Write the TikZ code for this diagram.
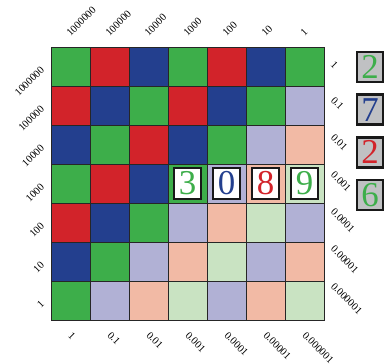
\documentclass[tikz,border=0pt]{standalone}
\usepackage{fontspec}
\setmainfont{Liberation Serif}
\usepackage{graphicx}
\usetikzlibrary{positioning}
\definecolor{full0}{HTML}{3DAE4A}
\definecolor{full1}{HTML}{D2232A}
\definecolor{full2}{HTML}{233F8E}
\definecolor{light0}{HTML}{C9E3C2}
\definecolor{light1}{HTML}{B1B1D5}
\definecolor{light2}{HTML}{F2BAA5}
\definecolor{boxgray}{HTML}{C0C1C3}

\begin{document}
\begin{tikzpicture}[x=1bp, y=1bp,
    node distance=10bp,
    cell/.style={draw=black!85, line width=0.8bp, minimum size=39bp, inner sep=0pt, outer sep=0pt},
    tick/.style={inner sep=0pt, font=\fontsize{10.5}{12}\selectfont},
    digitbox/.style={draw=black!90, line width=2.6bp, minimum width=27bp, minimum height=31bp, inner sep=0pt, font=\fontsize{35}{36}\selectfont}
]
    \useasboundingbox (0,0) rectangle (385,364);

    % colour grid
    \foreach \i in {0,...,6} {
        \foreach \j in {0,...,6} {
            \pgfmathtruncatemacro{\s}{\i+\j}
            \pgfmathtruncatemacro{\m}{mod(\s,3)}
            \ifnum\s>6 \def\fillc{light\m}\else\def\fillc{full\m}\fi
            \node[cell, fill=\fillc] (c-\i-\j) at (70.5+39*\j, 297.5-39*\i) {};
        }
    }

    % axis labels
    \foreach \lab [count=\j from 0] in {1000000,100000,10000,1000,100,10,1}
        \node[tick, anchor=south west] (top-\j) at ([xshift=-5bp, yshift=10bp]c-0-\j.north) {\rotatebox{45}{\lab}};
    \foreach \lab [count=\i from 0] in {1000000,100000,10000,1000,100,10,1}
        \node[tick, anchor=north east] (left-\i) at ([xshift=-6bp, yshift=1bp]c-\i-0.west) {\rotatebox{45}{\lab}};
    \foreach \lab [count=\i from 0] in {1,0.1,0.01,0.001,0.0001,0.00001,0.000001}
        \node[tick, anchor=west] (right-\i) at ([xshift=6bp, yshift=2bp]c-\i-6.east) {\rotatebox{-45}{\lab}};
    \foreach \lab [count=\j from 0] in {1,0.1,0.01,0.001,0.0001,0.00001,0.000001}
        \node[tick, anchor=north west] (bot-\j) at ([xshift=-3bp, yshift=-11bp]c-6-\j.south) {\rotatebox{-45}{\lab}};

    % digits in the grid
    \foreach \d/\col [count=\k from 3] in {3/full0, 0/full2, 8/full1, 9/full0}
        \node[digitbox, fill=white, text=\col] (d-\k) at (c-3-\k) {\d};

    % digits at the side
    \node[digitbox, fill=boxgray, text=full0, minimum width=26bp, minimum height=30bp] (g-0) at (370,297) {2};
    \node[digitbox, fill=boxgray, text=full2, minimum width=26bp, minimum height=30bp, below=of g-0] (g-1) {7};
    \node[digitbox, fill=boxgray, text=full1, minimum width=26bp, minimum height=30bp, below=of g-1] (g-2) {2};
    \node[digitbox, fill=boxgray, text=full0, minimum width=26bp, minimum height=30bp, below=of g-2] (g-3) {6};
\end{tikzpicture}
\end{document}
